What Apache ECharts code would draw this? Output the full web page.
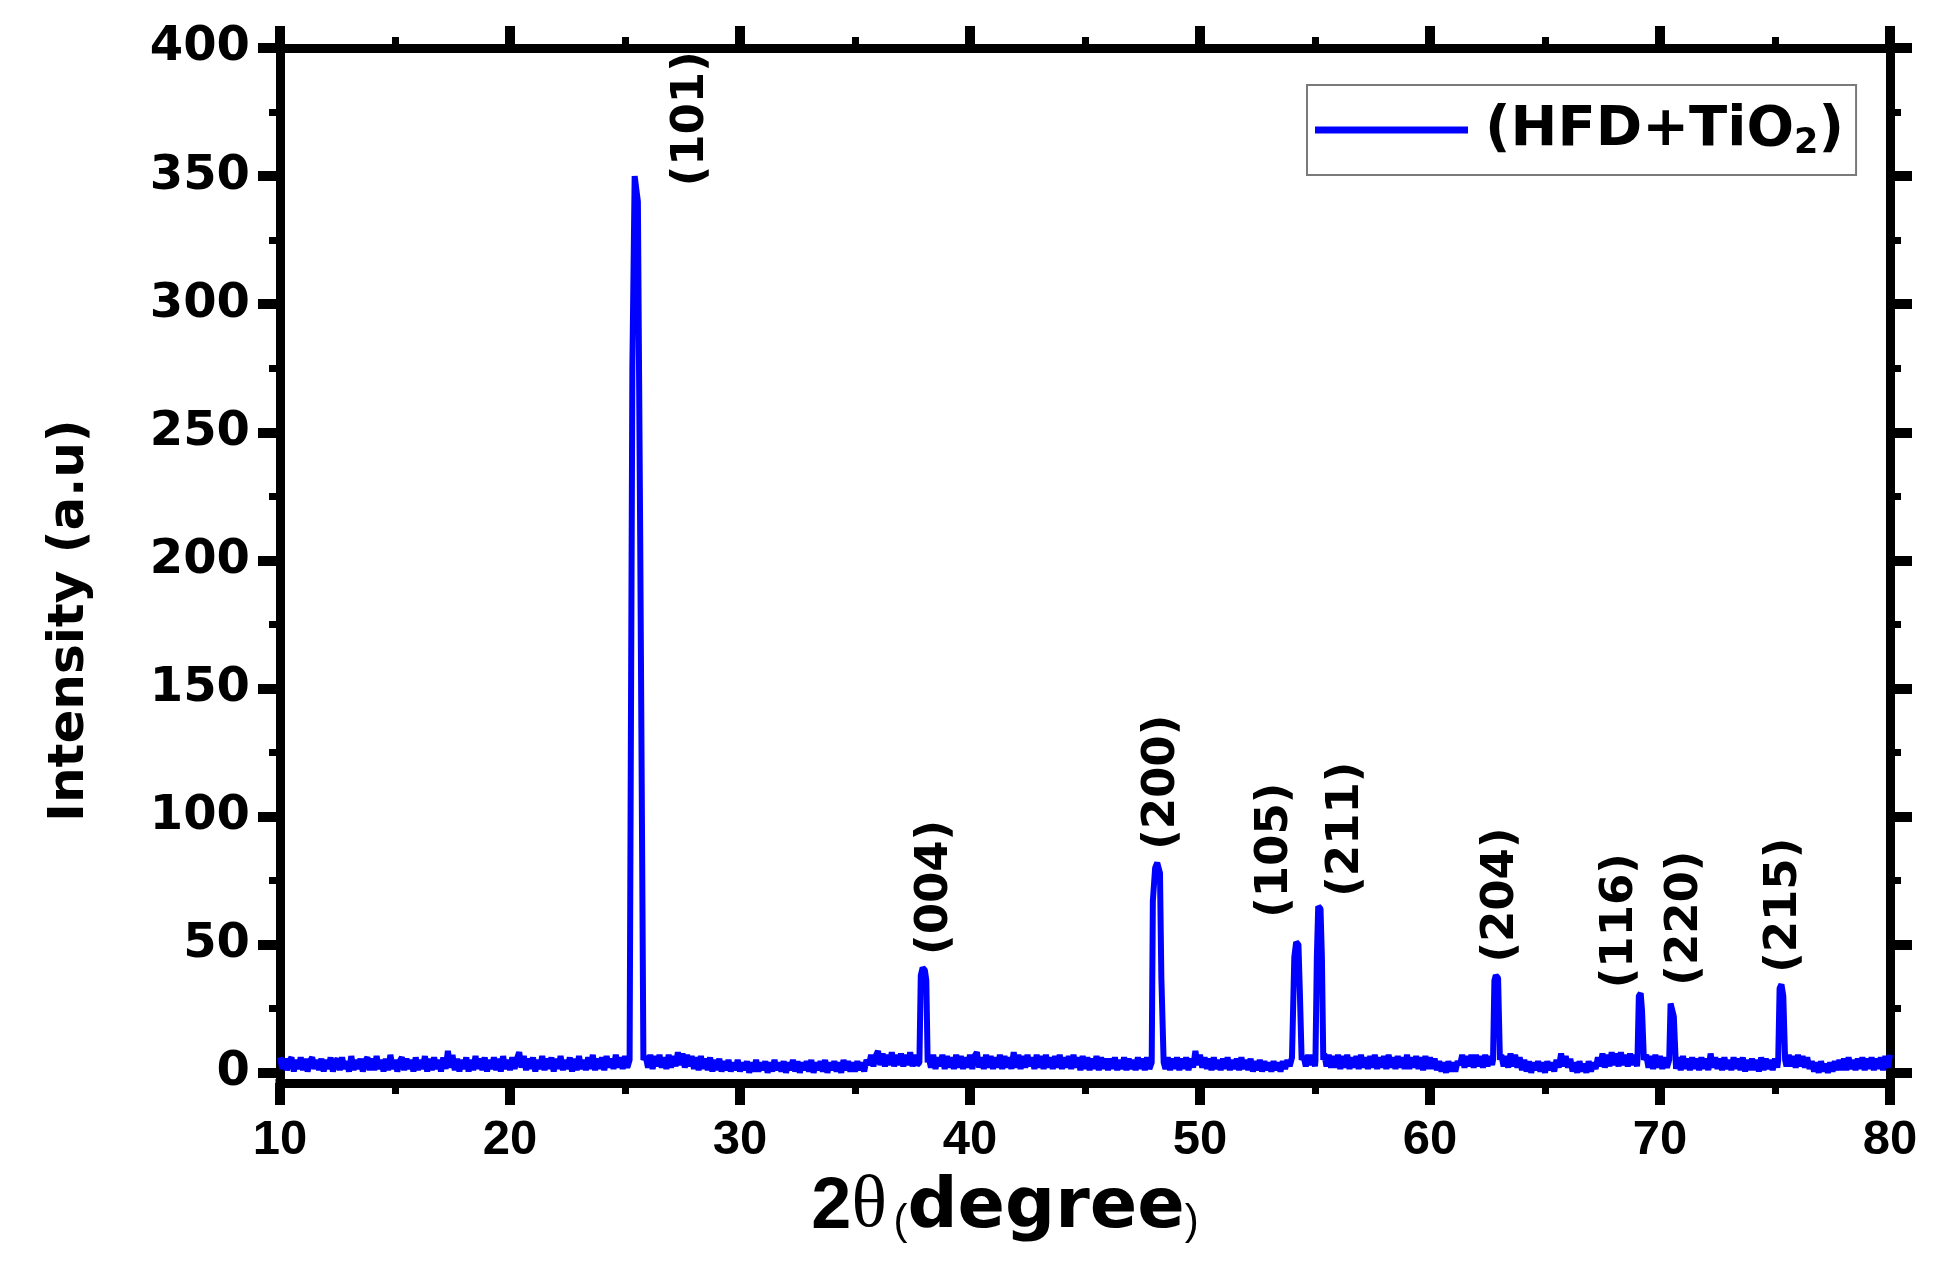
<!DOCTYPE html>
<html>
<head>
<meta charset="utf-8">
<script src="https://cdn.jsdelivr.net/npm/echarts@6/dist/echarts.min.js"></script>
<style>
  html, body { margin: 0; padding: 0; background: #ffffff; }
  #chart { width: 1955px; height: 1262px; }
</style>
</head>
<body>
<div id="chart"></div>
<script>
// ---- Axis settings ----
const xMin = 10, xMax = 80, xInterval = 10;
const yMin = -4, yMax = 400;
const yMajorTicks = [0, 50, 100, 150, 200, 250, 300, 350, 400];
const yMinorTicks = [25, 75, 125, 175, 225, 275, 325, 375];

// ---- Noisy background, sampled every 0.1 degree from 10.0 to 80.0 ----
// null = position covered by a peak profile below
const baseStart = 10, baseStep = 0.1;
const baseline = [
  6,1.5,5.5,1,4.5,6,0.5,5,1.5,6,               // 10
  1,5.5,0.5,4.5,6,1.5,5,1,5.5,0.5,             // 11
  5,1.5,6,0.5,4,5.5,1,6,1.5,4.5,               // 12
  0.5,6.5,1,5,1.5,5.5,0.5,4.5,6,1,             // 13
  5.5,1,6.5,1.5,5,0.5,5.5,1,7,1.5,             // 14
  5,0.5,4.5,6,1,5.5,1.5,5,0.5,6,               // 15
  1,5,1.5,6.5,0.5,5.5,1,6,1.5,5,               // 16
  0.5,6,1.5,8.5,2,7,1,5.5,0.5,5,               // 17
  1.5,6,0.5,5,1,6.5,1.5,5.5,1,6,               // 18
  0.5,5,1.5,6,1,5.5,0.5,6.5,1.5,5,             // 19
  1,6,1.5,5.5,8,2,6.5,1,5.5,1.5,               // 20
  6,0.5,5,1.5,6.5,1,5.5,1.5,6,0.5,             // 21
  5.5,1.5,6.5,1,5,1.5,6,0.5,5.5,1,             // 22
  6.5,1.5,5,1,6,1.5,7,1,5.5,1.5,               // 23
  6,1,6.5,2,5.5,1.5,7,2,6,1.5,                 // 24
  6.5,2,null,null,null,null,null,null,null,6.5,// 25
  2,7,1.5,6.5,2.5,7,2,6,1.5,7,                 // 26
  2,6.5,2.5,8,3,7.5,2,7,2.5,6.5,               // 27
  1.5,6,1,6.5,1.5,5.5,1,6,0.5,5,               // 28
  1,5.5,0.5,4.5,1,5,0.5,4,1,5,                 // 29
  0.5,4,1,4.5,0,4,0.5,5,0.5,4,                 // 30
  1,4.5,0,4,0.5,5,1,4,0.5,4.5,                 // 31
  0,4,1,5,0.5,4.5,0,4,1,4.5,                   // 32
  0.5,5,0,4,1,4.5,0.5,5,0,4,                   // 33
  1,4.5,0.5,4,0,5,1,4.5,0.5,4,                 // 34
  0.5,4.5,1,4,0.5,5,3,7,2.5,6.5,               // 35
  8.5,3,7.5,2.5,7,3,8,2.5,7,3,                 // 36
  7.5,2.5,7,3,8,2.5,7,3,null,null,             // 37
  null,null,6.5,2,7,1.5,6,2.5,7,1.5,           // 38
  6.5,2,6,1.5,7,2,6.5,1.5,6,2,                 // 39
  7,1.5,6.5,8,2,6,1.5,7,2,6.5,                 // 40
  1.5,6,2,7,1.5,6.5,2,6,1.5,8,                 // 41
  2,7,1.5,6.5,2,7,2.5,6,1.5,7,                 // 42
  2,6.5,1.5,7,2,6,1.5,6.5,2,7,                 // 43
  1.5,6,2,6.5,1.5,7,2,6,1,6.5,                 // 44
  1.5,6,1,5.5,1.5,6.5,1,6,1.5,5.5,             // 45
  1,5.5,1.5,6,1,5,1.5,6,1,5.5,                 // 46
  1.5,5,1,6,1.5,5.5,1,6,1.5,null,              // 47
  null,null,null,null,null,1.5,6,1,5.5,1.5,    // 48
  6,1,5.5,1.5,6,1,5.5,2,8.5,3,                 // 49
  7,2,6,1.5,5.5,1,6,1.5,5,1,                   // 50
  5.5,1.5,6,1,5,1.5,5.5,1,6,1.5,               // 51
  5,1,5.5,0.5,4.5,1,5,0.5,4.5,1,               // 52
  4,0.5,4.5,1,4,0.5,4.5,1.5,5,2.5,             // 53
  6,null,null,null,null,6.5,2.5,7,3,7,         // 54
  2.5,null,null,null,7.5,2.5,7,2,6.5,2,        // 55
  7,1.5,6.5,2,7,1.5,6,2,6.5,1.5,               // 56
  7,2,6,1.5,6.5,2,7,1.5,6,2,                   // 57
  6.5,1.5,7,2,6,1.5,6.5,2,6,1.5,               // 58
  7,1.5,6,2,6.5,1.5,6,1,6.5,1.5,               // 59
  6,1.5,5.5,1,4.5,0.5,4,0,4.5,0.5,             // 60
  4,0.5,4.5,3,7,2,6.5,2.5,7,2,                 // 61
  7,2.5,6.5,2,7,2.5,6.5,3,null,null,           // 62
  null,7,2.5,6.5,2,7.5,2.5,7,2,6,              // 63
  1,5,0.5,4.5,0,4,1,4.5,0.5,4,                 // 64
  0,4.5,1,4,0.5,5,2,7.5,2.5,6.5,               // 65
  2,5.5,0.5,4,0,4.5,0.5,3.5,0,4.5,             // 66
  0.5,4,1.5,6,2.5,7.5,2,7,2.5,8,               // 67
  3,7.5,2.5,8,3,7,2.5,7.5,3,7,                 // 68
  2.5,null,null,null,7,2,6.5,1.5,7,2,          // 69
  6.5,1.5,6,2,null,null,null,1.5,6,1,          // 70
  6.5,1.5,5.5,1,6,1.5,5.5,1,6,1.5,             // 71
  5.5,1,7.5,2,6,1.5,5.5,1,6,1.5,               // 72
  5,1,6,1.5,5.5,1,6,0.5,5,1,                   // 73
  5.5,1,5,0.5,6,1,5.5,1.5,5,1,                 // 74
  5.5,2,null,null,null,2.5,7,2.5,6.5,2,        // 75
  7,2.5,6.5,2,6,1.5,4.5,0.5,4,0,               // 76
  4.5,0.5,3.5,0,4,0.5,4.5,1,5,1,               // 77
  5.5,1,6,1.5,5,1,5.5,1.5,6,1,                 // 78
  5.5,1.5,6,1,5.5,1.5,6,1,6.5,2,               // 79
  7                                            // 80
];

// ---- Diffraction peak profiles [2theta, intensity] ----
const peak101 = [[25.2,5],[25.24,95],[25.32,275],[25.42,350],[25.56,340],[25.66,210],[25.8,5]];
const peak004 = [[37.8,4],[37.86,38],[37.94,41],[38.04,40],[38.1,36],[38.16,4]];
const peak200 = [[47.9,4],[47.95,67],[48.05,80],[48.14,82],[48.26,78],[48.32,37],[48.42,4]];
const peak105 = [[54.05,6],[54.1,45],[54.18,51],[54.28,50],[54.34,32],[54.42,5]];
const peak211 = [[55.02,5],[55.08,45],[55.14,65],[55.24,64],[55.3,45],[55.36,5]];
const peak204 = [[62.74,5],[62.8,36],[62.86,38],[62.96,37],[63.04,5]];
const peak116 = [[69.02,5],[69.08,30],[69.16,31],[69.22,24],[69.3,5]];
const peak220 = [[70.4,5],[70.46,27],[70.54,27.5],[70.6,22],[70.68,5]];
const peak215 = [[75.14,5],[75.2,33],[75.28,34.5],[75.36,30],[75.44,5]];
const peakProfiles = [peak101, peak004, peak200, peak105, peak211, peak204, peak116, peak220, peak215];

// ---- Miller index annotations ----
const hklLabels = ['(101)','(004)','(200)','(105)','(211)','(204)','(116)','(220)','(215)'];
const hklX = [27.9, 38.48, 48.35, 53.26, 56.35, 63.1, 68.26, 71.1, 75.4];
const hklY = [346, 46, 87, 60.5, 68.7, 43, 33, 34, 39];

const seriesName = '(HFD+TiO2)';

// ---- Build the pattern ----
const pts = [];
baseline.forEach((v, i) => {
  if (v === null) return;
  const x = Math.round((baseStart + i * baseStep) * 100) / 100;
  if (peakProfiles.some(p => x >= p[0][0] && x <= p[p.length - 1][0])) return;
  pts.push([x, v]);
});
peakProfiles.forEach(p => p.forEach(q => pts.push(q)));
pts.sort((a, b) => a[0] - b[0]);

const black = '#000000';
const axisLineStyle = { color: black, width: 9, cap: 'square' };
const majorTick = { show: true, inside: false, length: 22, lineStyle: { color: black, width: 10 } };
const minorTickX = { show: true, splitNumber: 2, length: 11, lineStyle: { color: black, width: 7 } };

const chart = echarts.init(document.getElementById('chart'), null, { renderer: 'canvas' });
chart.setOption({
  animation: false,
  backgroundColor: '#ffffff',
  grid: { left: 280, right: 65, top: 48, bottom: 179 },
  legend: {
    data: [seriesName],
    left: 1307, top: 85,
    padding: [14, 12, 14, 8],
    borderColor: '#7a7a7a', borderWidth: 2,
    itemWidth: 153, itemHeight: 7, icon: 'rect',
    formatter: () => '{f|(HFD+TiO}{s|2}{a|)}',
    textStyle: {
      color: black,
      rich: {
        f: { fontFamily: 'DejaVu Sans', fontWeight: 'bold', fontSize: 56, color: black, lineHeight: 60, padding: [0, 0, 0, 12] },
        a: { fontFamily: 'DejaVu Sans', fontWeight: 'bold', fontSize: 56, color: black, lineHeight: 60 },
        s: { fontFamily: 'DejaVu Sans', fontWeight: 'bold', fontSize: 35, color: black, lineHeight: 60, padding: [27, 0, 0, 0] }
      }
    }
  },
  xAxis: [
    {
      type: 'value', position: 'bottom', min: xMin, max: xMax, interval: xInterval,
      axisLine: { show: true, onZero: false, lineStyle: axisLineStyle },
      axisTick: majorTick, minorTick: minorTickX,
      splitLine: { show: false }, minorSplitLine: { show: false },
      axisLabel: { show: true, margin: 33, color: black, fontFamily: 'Liberation Sans', fontWeight: 'bold', fontSize: 49 },
      name: '{a|2}{t|θ}{g| }{p|(}{d|degree}{p|)}',
      nameLocation: 'middle', nameGap: 85,
      nameTextStyle: {
        padding: [0, 160, 0, 0],
        rich: {
          a: { fontFamily: 'Liberation Sans', fontWeight: 'bold', fontSize: 72, color: black, verticalAlign: 'bottom' },
          t: { fontFamily: 'Liberation Serif', fontSize: 74, color: black, verticalAlign: 'bottom' },
          g: { fontFamily: 'Liberation Sans', fontSize: 24, color: black, verticalAlign: 'bottom' },
          p: { fontFamily: 'Liberation Sans', fontSize: 42, color: black, verticalAlign: 'bottom' },
          d: { fontFamily: 'DejaVu Sans', fontWeight: 'bold', fontSize: 70, color: black, verticalAlign: 'bottom' }
        }
      }
    },
    {
      type: 'value', position: 'top', min: xMin, max: xMax, interval: xInterval,
      axisLine: { show: true, onZero: false, lineStyle: axisLineStyle },
      axisTick: majorTick, minorTick: minorTickX,
      splitLine: { show: false }, axisLabel: { show: false }
    }
  ],
  yAxis: [
    {
      type: 'value', position: 'left', min: yMin, max: yMax,
      axisLine: { show: true, onZero: false, lineStyle: axisLineStyle },
      axisTick: Object.assign({ customValues: yMajorTicks }, majorTick),
      splitLine: { show: false },
      axisLabel: { show: true, customValues: yMajorTicks, margin: 30, color: black, fontFamily: 'DejaVu Sans', fontWeight: 'bold', fontSize: 48 },
      name: 'Intensity (a.u)', nameLocation: 'middle', nameRotate: 90, nameGap: 185,
      nameTextStyle: { fontFamily: 'DejaVu Sans', fontWeight: 'bold', fontSize: 50, color: black, padding: [0, 110, 0, 0] }
    },
    {
      type: 'value', position: 'left', min: yMin, max: yMax,
      axisLine: { show: false },
      axisTick: { show: true, inside: false, length: 11, customValues: yMinorTicks, lineStyle: { color: black, width: 7 } },
      splitLine: { show: false }, axisLabel: { show: false }
    },
    {
      type: 'value', position: 'right', min: yMin, max: yMax,
      axisLine: { show: true, onZero: false, lineStyle: axisLineStyle },
      axisTick: Object.assign({ customValues: yMajorTicks }, majorTick),
      splitLine: { show: false }, axisLabel: { show: false }
    },
    {
      type: 'value', position: 'right', min: yMin, max: yMax,
      axisLine: { show: false },
      axisTick: { show: true, inside: false, length: 11, customValues: yMinorTicks, lineStyle: { color: black, width: 7 } },
      splitLine: { show: false }, axisLabel: { show: false }
    }
  ],
  series: [
    {
      name: seriesName, type: 'line', xAxisIndex: 0, yAxisIndex: 0,
      data: pts, showSymbol: false, symbol: 'none', sampling: null, smooth: false,
      lineStyle: { color: '#0000ff', width: 6 }, itemStyle: { color: '#0000ff' },
      clip: true, z: 3
    },
    {
      name: 'hkl', type: 'scatter', xAxisIndex: 0, yAxisIndex: 0,
      data: hklX.map((x, i) => [x, hklY[i], hklLabels[i]]),
      symbolSize: 1, itemStyle: { color: 'rgba(0,0,0,0)', opacity: 1 }, silent: true,
      label: {
        show: true, position: 'inside', rotate: 90, align: 'left', verticalAlign: 'middle',
        formatter: p => p.data[2], opacity: 1, textBorderWidth: 0,
        fontFamily: 'DejaVu Sans', fontWeight: 'bold', fontSize: 45, color: black
      },
      z: 4
    }
  ]
});
</script>
</body>
</html>
